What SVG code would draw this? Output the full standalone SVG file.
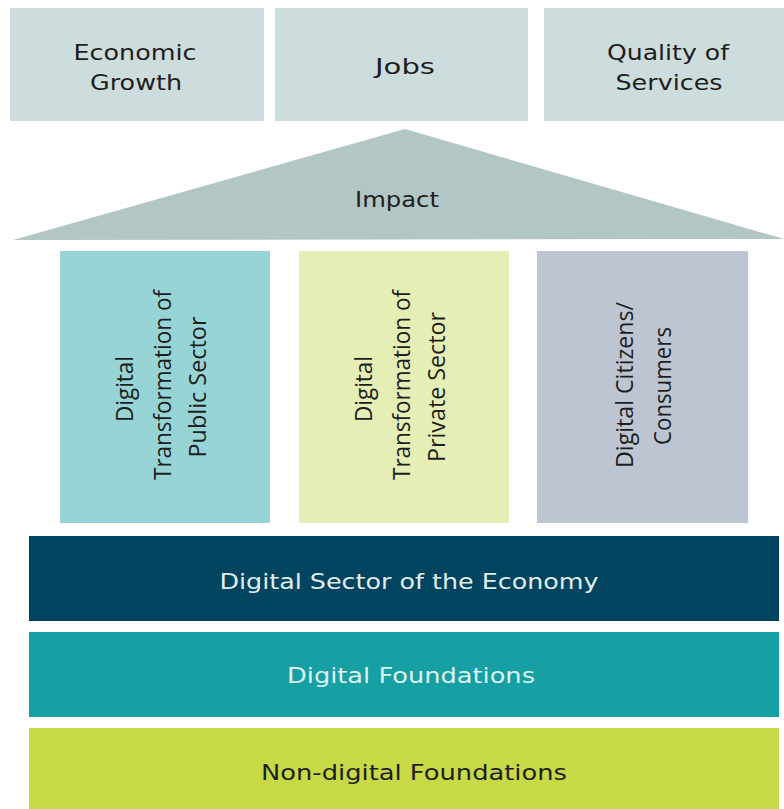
<svg xmlns="http://www.w3.org/2000/svg" width="784" height="809" viewBox="0 0 784 809">
<style>
.bg{fill:#ffffff}
.top{fill:#cddcdc}
.lbl{font-family:"DejaVu Sans","Liberation Sans",sans-serif;font-size:22px;text-anchor:middle;fill:#1e1e1e}
.vl{font-family:"Open Sans","Noto Sans",sans-serif;font-size:24px;text-anchor:middle;fill:#1e1e1e}
.light{fill:#e2edf0}
</style>
<rect class="bg" x="0" y="0" width="784" height="809"/>
<g id="economic-growth">
<rect class="top" x="10" y="8" width="254" height="113"/>
<text class="lbl" x="135" y="60" textLength="123" lengthAdjust="spacingAndGlyphs">Economic</text>
<text class="lbl" x="136" y="90" textLength="92" lengthAdjust="spacingAndGlyphs">Growth</text>
</g>
<g id="jobs">
<rect class="top" x="275" y="8" width="253" height="113"/>
<text class="lbl" x="405" y="74" textLength="60" lengthAdjust="spacingAndGlyphs">Jobs</text>
</g>
<g id="quality-of-services">
<rect class="top" x="544" y="8" width="240" height="113"/>
<text class="lbl" x="668" y="60" textLength="122" lengthAdjust="spacingAndGlyphs">Quality of</text>
<text class="lbl" x="669" y="90" textLength="107" lengthAdjust="spacingAndGlyphs">Services</text>
</g>
<g id="impact">
<polygon points="405,129 13,240 784,239" fill="#b3c6c6"/>
<text class="lbl" x="397" y="207" textLength="84" lengthAdjust="spacingAndGlyphs">Impact</text>
</g>
<g id="public-sector">
<rect x="60" y="251" width="210" height="272" fill="#96d4d6"/>
<text class="vl" transform="translate(133,389) rotate(-90)" textLength="66" lengthAdjust="spacingAndGlyphs">Digital</text>
<text class="vl" transform="translate(171,385) rotate(-90)" textLength="190" lengthAdjust="spacingAndGlyphs">Transformation of</text>
<text class="vl" transform="translate(206,387) rotate(-90)" textLength="141" lengthAdjust="spacingAndGlyphs">Public Sector</text>
</g>
<g id="private-sector">
<rect x="299" y="251" width="210" height="272" fill="#e5eeb5"/>
<text class="vl" transform="translate(372,389) rotate(-90)" textLength="66" lengthAdjust="spacingAndGlyphs">Digital</text>
<text class="vl" transform="translate(410,385) rotate(-90)" textLength="190" lengthAdjust="spacingAndGlyphs">Transformation of</text>
<text class="vl" transform="translate(445,387) rotate(-90)" textLength="150" lengthAdjust="spacingAndGlyphs">Private Sector</text>
</g>
<g id="citizens">
<rect x="537" y="251" width="211" height="272" fill="#bcc5d1"/>
<text class="vl" transform="translate(633,385) rotate(-90)" textLength="166" lengthAdjust="spacingAndGlyphs">Digital Citizens/</text>
<text class="vl" transform="translate(671,386) rotate(-90)" textLength="118" lengthAdjust="spacingAndGlyphs">Consumers</text>
</g>
<g id="digital-sector">
<rect x="29" y="536" width="750" height="85" fill="#00445f"/>
<text class="lbl light" x="409" y="589" textLength="379" lengthAdjust="spacingAndGlyphs">Digital Sector of the Economy</text>
</g>
<g id="digital-foundations">
<rect x="29" y="632" width="750" height="85" fill="#16a0a4"/>
<text class="lbl" x="411" y="683" textLength="248" lengthAdjust="spacingAndGlyphs" style="fill:#dff2f2">Digital Foundations</text>
</g>
<g id="non-digital-foundations">
<rect x="29" y="728" width="750" height="81" fill="#c8d946"/>
<text class="lbl" x="414" y="780" textLength="306" lengthAdjust="spacingAndGlyphs">Non-digital Foundations</text>
</g>
<g id="connectors"/>
</svg>
